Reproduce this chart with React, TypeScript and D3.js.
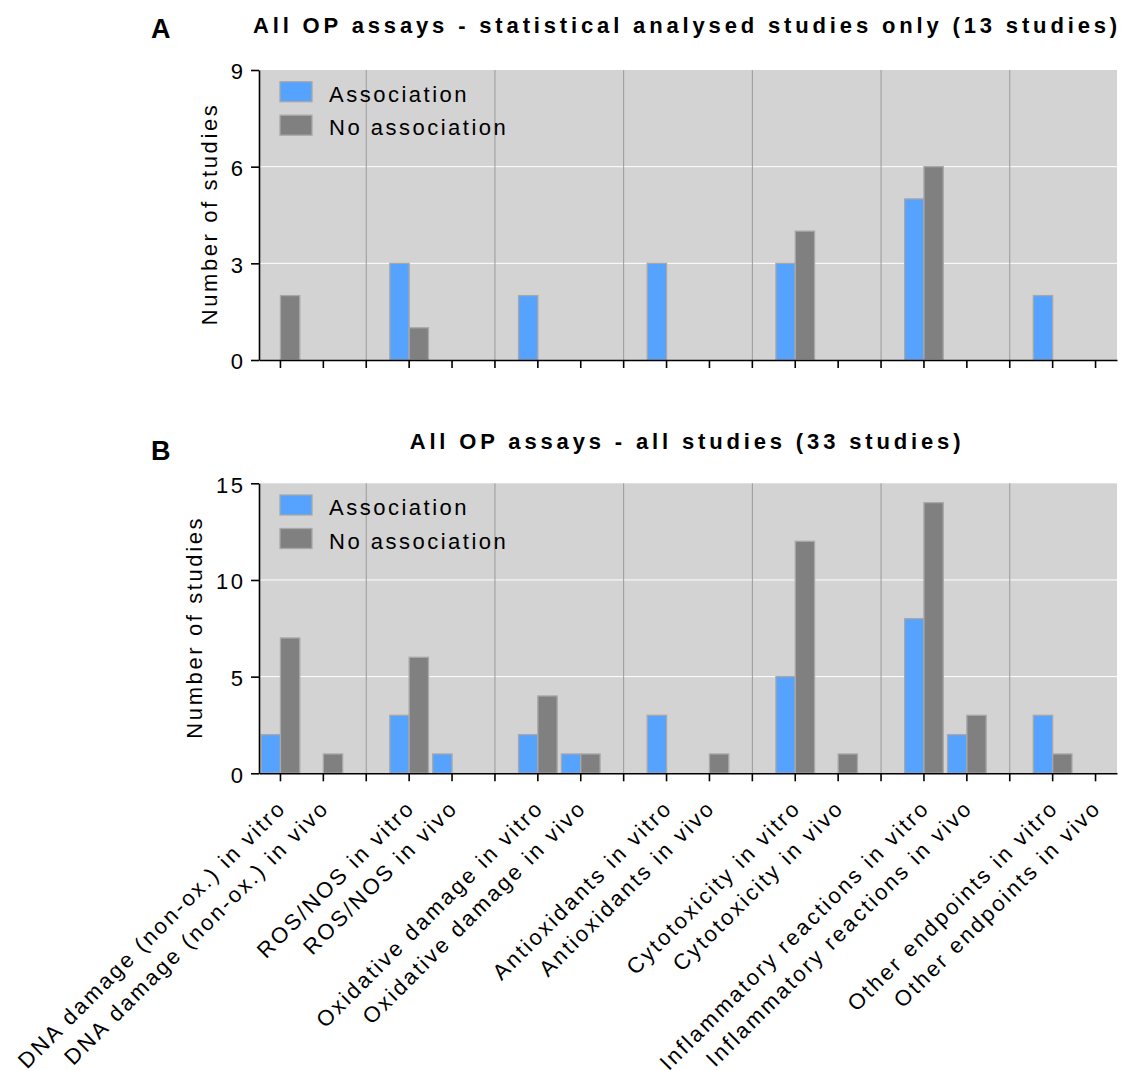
import { useRef, useEffect } from "react";
import * as d3 from "d3";

const categories = [
  "DNA damage (non-ox.) in vitro",
  "DNA damage (non-ox.) in vivo",
  "ROS/NOS in vitro",
  "ROS/NOS in vivo",
  "Oxidative damage in vitro",
  "Oxidative damage in vivo",
  "Antioxidants in vitro",
  "Antioxidants in vivo",
  "Cytotoxicity in vitro",
  "Cytotoxicity in vivo",
  "Inflammatory reactions in vitro",
  "Inflammatory reactions in vivo",
  "Other endpoints in vitro",
  "Other endpoints in vivo",
];

const seriesNames = ["Association", "No association"];
const seriesColors = ["#56a2ff", "#808080"];

// panel A: statistically analysed studies only
const assocA = [0, 0, 3, 0, 2, 0, 3, 0, 3, 0, 5, 0, 2, 0];
const noAssocA = [2, 0, 1, 0, 0, 0, 0, 0, 4, 0, 6, 0, 0, 0];
const ticksA = [0, 3, 6, 9];

// panel B: all studies
const assocB = [2, 0, 3, 1, 2, 1, 3, 0, 5, 0, 8, 2, 3, 0];
const noAssocB = [7, 1, 6, 0, 4, 1, 0, 1, 12, 1, 14, 3, 1, 0];
const ticksB = [0, 5, 10, 15];

const W = 1128;
const H = 1070;
const X0 = 259;
const X1 = 1117;
const FONT = "'Liberation Sans', Arial, sans-serif";
const FS = 22;
const LS = 2.5;

const App = () => {
  const svgRef = useRef<SVGSVGElement>(null);

  useEffect(() => {
    const svg = d3.select(svgRef.current);
    svg.selectAll("*").remove();

    // 2 categories per group, then an empty slot holding the separator line
    const slots: string[] = [];
    const seps: string[] = [];
    categories.forEach((c, i) => {
      slots.push(c);
      if (i % 2 === 1 && i < categories.length - 1) {
        const k = "sep" + i;
        slots.push(k);
        seps.push(k);
      }
    });

    const x = d3.scaleBand<string>().domain(slots).range([X0, X1]).padding(0);
    const xs = d3
      .scaleBand<string>()
      .domain(seriesNames)
      .range([0, x.bandwidth()])
      .paddingInner(0)
      .paddingOuter(0.11);

    const panels = [
      { letter: "A", title: "All OP assays - statistical analysed studies only (13 studies)", top: 70, bottom: 360, ticks: ticksA, values: [assocA, noAssocA], titleY: 33, letterY: 38, yLabelX: 216.5, labels: false },
      { letter: "B", title: "All OP assays - all studies (33 studies)", top: 483.3, bottom: 773.3, ticks: ticksB, values: [assocB, noAssocB], titleY: 449, letterY: 460, yLabelX: 201.5, labels: true },
    ];

    panels.forEach((p) => {
      const g = svg.append("g");
      const y = d3
        .scaleLinear()
        .domain([0, d3.max(p.ticks) as number])
        .range([p.bottom, p.top]);

      g.append("rect")
        .attr("x", X0)
        .attr("y", p.top)
        .attr("width", X1 - X0)
        .attr("height", p.bottom - p.top)
        .attr("fill", "#d3d3d3");

      // white grid
      g.selectAll(".grid")
        .data(p.ticks.slice(1, -1))
        .enter()
        .append("line")
        .attr("x1", X0)
        .attr("x2", X1)
        .attr("y1", (d) => y(d))
        .attr("y2", (d) => y(d))
        .attr("stroke", "#ffffff")
        .attr("stroke-width", 1);

      // group separators
      g.selectAll(".sep")
        .data(seps)
        .enter()
        .append("line")
        .attr("x1", (d) => (x(d) as number) + x.bandwidth() / 2)
        .attr("x2", (d) => (x(d) as number) + x.bandwidth() / 2)
        .attr("y1", p.top)
        .attr("y2", p.bottom)
        .attr("stroke", "#9a9a9a")
        .attr("stroke-width", 1);

      // bars
      seriesNames.forEach((s, si) => {
        const rows = categories
          .map((c, i) => ({ c, v: p.values[si][i] }))
          .filter((d) => d.v > 0);
        g.selectAll(".bar" + si)
          .data(rows)
          .enter()
          .append("rect")
          .attr("x", (d) => (x(d.c) as number) + (xs(s) as number))
          .attr("y", (d) => y(d.v))
          .attr("width", xs.bandwidth())
          .attr("height", (d) => y(0) - y(d.v))
          .attr("fill", seriesColors[si])
          .attr("stroke", "#a8a8a8")
          .attr("stroke-width", 1.3);
      });

      // axes
      const xAxis = g
        .append("g")
        .attr("transform", `translate(0,${p.bottom})`)
        .call(
          d3
            .axisBottom(x)
            .tickSize(8)
            .tickSizeOuter(0)
            .tickFormat(() => "")
        );
      xAxis.select(".domain").attr("stroke", "#000").attr("stroke-width", 1.6);
      xAxis.selectAll(".tick line").attr("stroke", "#000").attr("stroke-width", 1.6);

      const yAxis = g
        .append("g")
        .attr("transform", `translate(${X0},0)`)
        .call(d3.axisLeft(y).tickValues(p.ticks).tickSize(8).tickSizeOuter(0).tickPadding(5.5));
      yAxis.select(".domain").attr("stroke", "#000").attr("stroke-width", 1.6);
      yAxis.selectAll(".tick line").attr("stroke", "#000").attr("stroke-width", 1.6);
      yAxis
        .selectAll(".tick text")
        .attr("font-family", FONT)
        .attr("font-size", FS)
        .attr("letter-spacing", LS)
        .attr("fill", "#000")
        .attr("dy", "0.4em");

      // y label
      g.append("text")
        .attr("transform", `translate(${p.yLabelX},${(p.top + p.bottom) / 2 - 1}) rotate(-90)`)
        .attr("text-anchor", "middle")
        .attr("font-family", FONT)
        .attr("font-size", FS)
        .attr("letter-spacing", 2.6)
        .text("Number of studies");

      // title + panel letter
      g.append("text")
        .attr("x", (X0 + X1) / 2 - 1)
        .attr("y", p.titleY)
        .attr("text-anchor", "middle")
        .attr("font-family", FONT)
        .attr("font-weight", "bold")
        .attr("font-size", FS)
        .attr("letter-spacing", 3.85)
        .text(p.title);

      g.append("text")
        .attr("x", 151)
        .attr("y", p.letterY)
        .attr("font-family", FONT)
        .attr("font-weight", "bold")
        .attr("font-size", 27)
        .text(p.letter);

      // legend
      const leg = g
        .selectAll(".leg")
        .data(seriesNames)
        .enter()
        .append("g")
        .attr("transform", (_, i) => `translate(280,${p.top + 11.7 + i * 33.5})`);
      leg
        .append("rect")
        .attr("width", 32)
        .attr("height", 20)
        .attr("fill", (_, i) => seriesColors[i])
        .attr("stroke", "#a8a8a8")
        .attr("stroke-width", 1.3);
      leg
        .append("text")
        .attr("x", 49)
        .attr("y", 20)
        .attr("font-family", FONT)
        .attr("font-size", FS)
        .attr("letter-spacing", LS)
        .text((d) => d);

      // rotated category labels
      if (p.labels) {
        g.selectAll(".xl")
          .data(categories)
          .enter()
          .append("text")
          .attr(
            "transform",
            (d) =>
              `translate(${(x(d) as number) + x.bandwidth() / 2 + 7},${p.bottom + 36}) rotate(-45)`
          )
          .attr("text-anchor", "end")
          .attr("font-family", FONT)
          .attr("font-size", FS)
          .attr("letter-spacing", LS)
          .text((d) => d);
      }
    });
  }, []);

  return (
    <svg
      ref={svgRef}
      width={W}
      height={H}
      style={{ position: "absolute", left: 0, top: 0, background: "#fff" }}
    />
  );
};

export default App;
